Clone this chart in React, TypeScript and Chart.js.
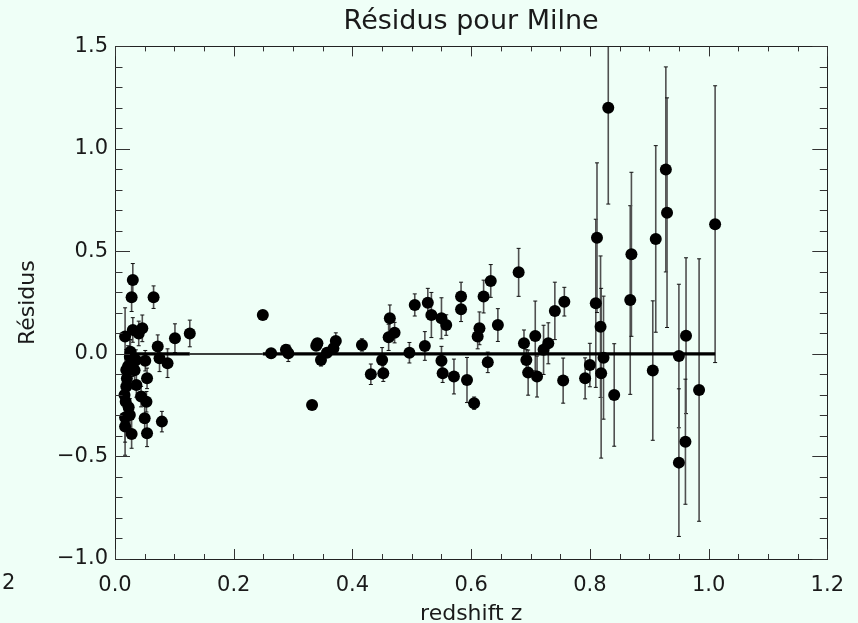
import React, { useEffect, useRef } from 'react';
import { Chart, registerables } from 'chart.js';

Chart.register(...registerables);

// ---- data ----
const redshift = [
  0.017, 0.030, 0.028, 0.065, 0.030, 0.046, 0.040, 0.072, 0.101, 0.126,
  0.075, 0.0885, 0.051, 0.054, 0.079, 0.054, 0.050, 0.053, 0.044, 0.036,
  0.028, 0.025, 0.017, 0.017, 0.018, 0.019, 0.019, 0.025, 0.026, 0.022,
  0.030, 0.033, 0.016, 0.020, 0.035, 0.023,
  0.249, 0.263, 0.288, 0.292, 0.332, 0.341, 0.339, 0.347, 0.357, 0.368,
  0.372, 0.416, 0.431, 0.450, 0.452, 0.463, 0.461, 0.471, 0.496, 0.505,
  0.522, 0.527, 0.533, 0.550, 0.558, 0.550, 0.552, 0.571, 0.583, 0.583,
  0.593, 0.605, 0.614, 0.611, 0.621, 0.633, 0.628, 0.645, 0.680, 0.689,
  0.693, 0.696, 0.708, 0.711, 0.722, 0.730, 0.741, 0.757, 0.755, 0.792,
  0.800, 0.810, 0.812, 0.818, 0.823, 0.819, 0.831, 0.841, 0.868, 0.870,
  0.906, 0.911, 0.928, 0.930, 0.950, 0.950, 0.962, 0.961, 0.984, 1.011,
];

const residus = [
  0.085, 0.361, 0.277, 0.277, 0.117, 0.125, 0.100, 0.036, 0.077, 0.100,
  -0.021, -0.045, -0.033, -0.119, -0.330, -0.387, -0.314, -0.233, -0.208, -0.151,
  -0.390, -0.298, -0.354, -0.310, -0.233, -0.159, -0.078, -0.013, 0.011, -0.060,
  -0.050, -0.080, -0.200, -0.120, -0.030, -0.260,
  0.190, 0.003, 0.020, 0.003, -0.249, 0.052, 0.040, -0.029, 0.006, 0.028,
  0.063, 0.044, -0.099, -0.029, -0.094, 0.174, 0.081, 0.104, 0.006, 0.239,
  0.039, 0.250, 0.190, 0.174, 0.141, -0.033, -0.094, -0.110, 0.280, 0.218,
  -0.127, -0.240, 0.125, 0.085, 0.280, 0.356, -0.041, 0.141, 0.398, 0.052,
  -0.029, -0.091, 0.088, -0.110, 0.020, 0.052, 0.210, 0.255, -0.130, -0.119,
  -0.054, 0.247, 0.567, 0.133, -0.018, -0.094, 1.201, -0.200, 0.263, 0.486,
  -0.081, 0.561, 0.900, 0.689, -0.010, -0.530, 0.089, -0.428, -0.176, 0.633,
];

const erreurs = [
  0.14, 0.08, 0.07, 0.055, 0.06, 0.065, 0.06, 0.057, 0.07, 0.065,
  0.065, 0.07, 0.05, 0.05, 0.05, 0.065, 0.06, 0.05, 0.05, 0.06,
  0.07, 0.08, 0.14, 0.12, 0.10, 0.10, 0.10, 0.08, 0.06, 0.10,
  0.06, 0.06, 0.12, 0.10, 0.05, 0.10,
  0.02, 0.02, 0.025, 0.04, 0.02, 0.02, 0.02, 0.03, 0.02, 0.03,
  0.04, 0.03, 0.05, 0.06, 0.04, 0.065, 0.064, 0.05, 0.05, 0.054,
  0.07, 0.07, 0.11, 0.10, 0.05, 0.07, 0.045, 0.085, 0.07, 0.06,
  0.11, 0.03, 0.08, 0.06, 0.08, 0.08, 0.05, 0.08, 0.117, 0.065,
  0.05, 0.11, 0.17, 0.10, 0.12, 0.10, 0.14, 0.07, 0.11, 0.10,
  0.106, 0.41, 0.365, 0.345, 0.30, 0.414, 0.47, 0.25, 0.46, 0.40,
  0.34, 0.455, 0.50, 0.56, 0.35, 0.36, 0.38, 0.305, 0.64, 0.675,
];

const modelLevel = 0; // residual of the reference model
const xTickValues = [0.0, 0.2, 0.4, 0.6, 0.8, 1.0, 1.2];
const yTickValues = [-1.0, -0.5, 0.0, 0.5, 1.0, 1.5];
const strayXLabelValue = -0.2; // clipped label visible at the far left
const xMinorStep = 0.05;
const yMinorStep = 0.1;

const FONT = "'DejaVu Sans', sans-serif";
const BG = '#EFFFF7';
const INK = '#1a1a1a';

const fmt = (v: number) => v.toFixed(1).replace('-', '\u2212');

const idlPlugin = {
  id: 'idlStyle',
  beforeDraw(chart: any) {
    const { ctx, width, height } = chart;
    ctx.save();
    ctx.fillStyle = BG;
    ctx.fillRect(0, 0, width, height);
    ctx.restore();
  },
  beforeDatasetsDraw(chart: any) {
    const { ctx, chartArea, scales } = chart;
    const xs = scales.x;
    const ys = scales.y;
    ctx.save();
    ctx.beginPath();
    ctx.rect(chartArea.left, chartArea.top, chartArea.right - chartArea.left, chartArea.bottom - chartArea.top);
    ctx.clip();
    for (let i = 0; i < redshift.length; i++) {
      const px = xs.getPixelForValue(redshift[i]);
      const yTop = ys.getPixelForValue(residus[i] + erreurs[i]);
      const yBot = ys.getPixelForValue(residus[i] - erreurs[i]);
      ctx.strokeStyle = '#505050';
      ctx.lineWidth = 1.6;
      ctx.beginPath();
      ctx.moveTo(px, yTop);
      ctx.lineTo(px, yBot);
      ctx.stroke();
      ctx.strokeStyle = '#111';
      ctx.lineWidth = 1;
      ctx.beginPath();
      ctx.moveTo(px - 2, yTop);
      ctx.lineTo(px + 2, yTop);
      ctx.moveTo(px - 2, yBot);
      ctx.lineTo(px + 2, yBot);
      ctx.stroke();
    }
    ctx.restore();
  },
  afterDraw(chart: any) {
    const { ctx, chartArea, scales } = chart;
    const { left, right, top, bottom } = chartArea;
    const xs = scales.x;
    const ys = scales.y;
    ctx.save();
    ctx.strokeStyle = '#222';
    ctx.lineWidth = 1;
    ctx.strokeRect(Math.round(left) + 0.5, Math.round(top) + 0.5, Math.round(right - left), Math.round(bottom - top));
    ctx.strokeStyle = '#333';
    ctx.beginPath();
    const xmin = xs.min, xmax = xs.max;
    for (let k = 0; ; k++) {
      const v = xmin + k * xMinorStep;
      if (v > xmax + 1e-9) break;
      const major = xTickValues.some((t) => Math.abs(t - v) < 1e-6);
      const len = major ? 10 : 5;
      const px = Math.round(xs.getPixelForValue(v)) + 0.5;
      ctx.moveTo(px, bottom);
      ctx.lineTo(px, bottom - len);
      ctx.moveTo(px, top);
      ctx.lineTo(px, top + len);
    }
    const ymin = ys.min, ymax = ys.max;
    for (let k = 0; ; k++) {
      const v = ymin + k * yMinorStep;
      if (v > ymax + 1e-9) break;
      const major = yTickValues.some((t) => Math.abs(t - v) < 1e-6);
      const len = major ? 15 : 7.5;
      const py = Math.round(ys.getPixelForValue(v)) + 0.5;
      ctx.moveTo(left, py);
      ctx.lineTo(left + len, py);
      ctx.moveTo(right, py);
      ctx.lineTo(right - len, py);
    }
    ctx.stroke();
    // stray clipped tick label at the far left (only its last digit shows)
    ctx.fillStyle = INK;
    ctx.font = `21px ${FONT}`;
    ctx.textAlign = 'right';
    ctx.textBaseline = 'top';
    ctx.fillText(fmt(strayXLabelValue), xs.getPixelForValue(strayXLabelValue) + 19, xs.top + 14);
    ctx.restore();
  },
};

export default function App() {
  const canvasRef = useRef<HTMLCanvasElement | null>(null);

  useEffect(() => {
    const canvas = canvasRef.current;
    if (!canvas) return;
    const points = redshift.map((z, i) => ({ x: z, y: residus[i] }));
    const sortedZ = [...redshift].sort((a, b) => a - b);
    const modelPoints = sortedZ.map((z) => ({ x: z, y: modelLevel }));

    const chart = new Chart(canvas, {
      type: 'scatter',
      data: {
        datasets: [
          {
            type: 'scatter',
            label: 'Résidus',
            data: points,
            backgroundColor: '#000',
            borderWidth: 0,
            pointRadius: 6,
            pointHoverRadius: 6,
            order: 1,
          } as any,
          {
            type: 'line',
            label: 'Milne',
            data: modelPoints,
            borderColor: '#000',
            borderWidth: 3,
            pointRadius: 0,
            showLine: true,
            fill: false,
            tension: 0,
            order: 2,
            segment: {
              borderWidth: (ctx: any) => (ctx.p1.parsed.x - ctx.p0.parsed.x > 0.1 ? 1.5 : 3.2),
            },
          } as any,
        ],
      },
      options: {
        responsive: false,
        animation: false,
        devicePixelRatio: 1,
        events: [],
        layout: { padding: { left: 0, right: 20, top: 0, bottom: 0 } },
        plugins: {
          legend: { display: false },
          tooltip: { enabled: false },
          title: {
            display: true,
            text: 'Résidus pour Milne',
            fullSize: false,
            color: INK,
            font: { family: FONT, size: 27, weight: 'normal', lineHeight: 1.2 },
            padding: { top: 6, bottom: 8 },
          },
        },
        scales: {
          x: {
            type: 'linear',
            position: 'bottom',
            min: 0,
            max: 1.2,
            afterFit: (s: any) => {
              s.height = 64;
            },
            afterBuildTicks: (s: any) => {
              s.ticks = xTickValues.map((v) => ({ value: v }));
            },
            grid: { display: false, drawTicks: false, tickLength: 0 },
            border: { display: false },
            ticks: {
              autoSkip: false,
              maxRotation: 0,
              padding: 14,
              color: INK,
              font: { family: FONT, size: 21 },
              callback: (v: any) => fmt(Number(v)),
            },
            title: {
              display: true,
              text: 'redshift z',
              color: INK,
              font: { family: FONT, size: 22, lineHeight: 0.8 },
              padding: { top: 0, bottom: 0 },
            },
          },
          y: {
            type: 'linear',
            position: 'left',
            min: -1.0,
            max: 1.5,
            afterFit: (s: any) => {
              s.width = 115;
            },
            afterBuildTicks: (s: any) => {
              s.ticks = yTickValues.map((v) => ({ value: v }));
            },
            grid: { display: false, drawTicks: false, tickLength: 0 },
            border: { display: false },
            ticks: {
              autoSkip: false,
              padding: 7,
              color: INK,
              font: { family: FONT, size: 21 },
              callback: (v: any) => fmt(Number(v)),
            },
            title: {
              display: true,
              text: 'Résidus',
              color: INK,
              font: { family: FONT, size: 22, lineHeight: 1.2 },
              padding: { top: 15, bottom: 0 },
            },
          },
        },
      },
      plugins: [idlPlugin],
    } as any);

    return () => {
      chart.destroy();
    };
  }, []);

  return (
    <div style={{ position: 'fixed', left: 0, top: 0, width: 858, height: 623, background: BG }}>
      <canvas ref={canvasRef} width={858} height={623} style={{ display: 'block', width: 858, height: 623 }} />
    </div>
  );
}
